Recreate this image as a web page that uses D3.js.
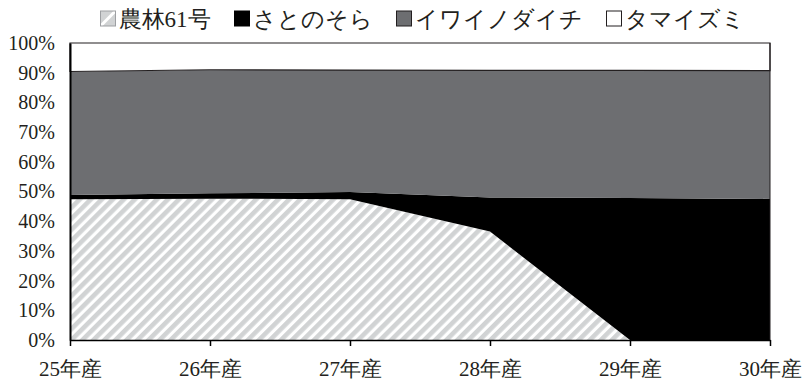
<!DOCTYPE html>
<html>
<head>
<meta charset="utf-8">
<script src="https://cdn.jsdelivr.net/npm/d3@7"></script>
<style>
  html, body { margin: 0; padding: 0; background: #fff; }
  svg { display: block; }
</style>
</head>
<body>
<svg id="chart" width="807" height="381"></svg>
<script>
// 品種別作付割合（%）
const years = ["25年産", "26年産", "27年産", "28年産", "29年産", "30年産"];
const varieties = ["農林61号", "さとのそら", "イワイノダイチ", "タマイズミ"];
const nourin61 = [47.4, 47.6, 47.4, 36.5, 0, 0];
const satonosora = [1.4, 1.8, 2.4, 11.5, 47.8, 47.5];
const iwainodaichi = [41.6, 41.6, 41.1, 42.8, 43.0, 43.2];
const tamaizumi = [9.6, 9.0, 9.1, 9.2, 9.2, 9.3];
const yTicks = [0, 10, 20, 30, 40, 50, 60, 70, 80, 90, 100];

const FONT = "'Liberation Serif', 'Times New Roman', Times, serif";

const rows = years.map((yr, i) => ({
  year: yr,
  "農林61号": nourin61[i],
  "さとのそら": satonosora[i],
  "イワイノダイチ": iwainodaichi[i],
  "タマイズミ": tamaizumi[i]
}));

const svg = d3.select("#chart");
const plotLeft = 70, plotRight = 770, plotTop = 43, plotBottom = 340;

const x = d3.scalePoint().domain(years).range([plotLeft, plotRight]);
const y = d3.scaleLinear().domain([0, 100]).range([plotBottom, plotTop]);

// hatch fill for 農林61号
const defs = svg.append("defs");
const pat = defs.append("pattern")
  .attr("id", "hatch")
  .attr("patternUnits", "userSpaceOnUse")
  .attr("width", 7.8).attr("height", 7.8)
  .attr("patternTransform", "rotate(45)");
pat.append("rect").attr("width", 7.8).attr("height", 7.8).attr("fill", "#fff");
pat.append("rect").attr("width", 4.6).attr("height", 7.8).attr("fill", "#d1d3d4");

const fills = {
  "農林61号": "url(#hatch)",
  "さとのそら": "#000000",
  "イワイノダイチ": "#6d6e71",
  "タマイズミ": "#ffffff"
};

const stacked = d3.stack().keys(varieties)(rows);

const area = d3.area()
  .x(d => x(d.data.year))
  .y0(d => y(d[0]))
  .y1(d => y(d[1]));

svg.append("g").selectAll("path")
  .data(stacked)
  .join("path")
  .attr("d", area)
  .attr("fill", d => fills[d.key])
  .attr("stroke", d => d.key === "タマイズミ" ? "#231f20" : "none")
  .attr("stroke-width", 1.2);

// frame on the right
svg.append("line")
  .attr("x1", plotRight).attr("x2", plotRight)
  .attr("y1", plotTop).attr("y2", plotBottom)
  .attr("stroke", "#231f20").attr("stroke-width", 1);

// y axis
const yAxis = svg.append("g")
  .attr("transform", `translate(${plotLeft},0)`)
  .call(d3.axisLeft(y).tickValues(yTicks).tickSize(0).tickPadding(15).tickFormat(d => d + "%"));
yAxis.select(".domain").attr("stroke", "#000").attr("stroke-width", 2);
yAxis.selectAll("text")
  .style("font-family", FONT)
  .style("font-size", "20px")
  .style("fill", "#231f20");

// x axis
const xAxis = svg.append("g")
  .attr("transform", `translate(0,${plotBottom})`)
  .call(d3.axisBottom(x).tickSize(6).tickSizeOuter(0).tickPadding(15));
xAxis.select(".domain").attr("stroke", "#000").attr("stroke-width", 1.5);
xAxis.selectAll(".tick line").attr("stroke", "#000").attr("stroke-width", 1.5);
xAxis.selectAll("text")
  .style("font-family", FONT)
  .style("font-size", "21px")
  .style("fill", "#231f20");

// legend
const legend = svg.append("g");
const sw = 15, gapSwatch = 3, gapItem = 24, fontSize = 23;
let cx = 0;
varieties.forEach(name => {
  const g = legend.append("g").attr("transform", `translate(${cx},0)`);
  if (name === "農林61号") {
    const cp = defs.append("clipPath").attr("id", "swclip");
    cp.append("rect").attr("width", sw).attr("height", sw);
    g.append("rect").attr("width", sw).attr("height", sw).attr("fill", "#d1d3d4");
    g.append("line")
      .attr("x1", 0).attr("y1", sw).attr("x2", sw).attr("y2", 0)
      .attr("stroke", "#fff").attr("stroke-width", 3)
      .attr("clip-path", "url(#swclip)");
    g.append("rect").attr("width", sw).attr("height", sw)
      .attr("fill", "none").attr("stroke", "#9d9fa2").attr("stroke-width", 1);
  } else {
    g.append("rect").attr("width", sw).attr("height", sw)
      .attr("fill", fills[name])
      .attr("stroke", name === "さとのそら" ? "#000" : "#231f20")
      .attr("stroke-width", 1);
  }
  const t = g.append("text")
    .attr("x", sw + gapSwatch)
    .attr("y", sw / 2)
    .attr("dy", "0.36em")
    .style("font-family", FONT)
    .style("font-size", fontSize + "px")
    .style("fill", "#231f20")
    .text(name);
  cx += sw + gapSwatch + t.node().getComputedTextLength() + gapItem;
});
const legendWidth = cx - gapItem;
legend.attr("transform", `translate(${(102 + 743) / 2 - legendWidth / 2},11)`);
</script>
</body>
</html>
